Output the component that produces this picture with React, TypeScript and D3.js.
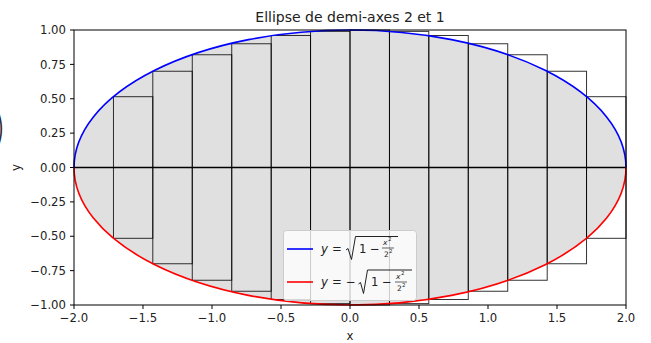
import React from 'react'
import * as d3 from 'd3'

// semi-axes of the ellipse
const semiA = 2
const semiB = 1

// rectangle edges on [-2, 2] (14 steps) and left-endpoint heights
const barEdges = [-2, -1.714, -1.429, -1.143, -0.857, -0.571, -0.286, 0, 0.286, 0.571, 0.857, 1.143, 1.429, 1.714, 2]
const barHeights = [0, 0.515, 0.7, 0.82, 0.9, 0.96, 0.99, 1.0, 0.99, 0.96, 0.9, 0.82, 0.7, 0.515]

const xTicks = [-2, -1.5, -1, -0.5, 0, 0.5, 1, 1.5, 2]
const yTicks = [-1, -0.75, -0.5, -0.25, 0, 0.25, 0.5, 0.75, 1]

const W = 651
const H = 343
const margin = { left: 74, right: 25, top: 30, bottom: 38 }
const font = '"DejaVu Sans", sans-serif'

const fmt = (v: number, d: number) => v.toFixed(d).replace('-', '\u2212')

const App: React.FC = () => {
  const x = d3.scaleLinear().domain([-semiA, semiA]).range([margin.left, W - margin.right])
  const y = d3.scaleLinear().domain([-semiB, semiB]).range([H - margin.bottom, margin.top])

  const cx = x(0)
  const cy = y(0)
  const rx = x(semiA) - x(0)
  const ry = y(0) - y(semiB)

  const upper = `M${x(-semiA)},${cy} A${rx},${ry} 0 0 1 ${x(semiA)},${cy}`
  const lower = `M${x(-semiA)},${cy} A${rx},${ry} 0 0 0 ${x(semiA)},${cy}`

  const bars = barHeights.map((h, i) => ({ x0: barEdges[i], x1: barEdges[i + 1], h }))

  return (
    <svg width={W} height={H} style={{ position: 'absolute', left: 0, top: 0, background: '#fff' }} fontFamily={font}>
      {/* filled ellipse */}
      <ellipse cx={cx} cy={cy} rx={rx} ry={ry} fill="#e0e0e0" />

      {/* rectangles above and below */}
      {bars.map((b, i) => (
        <g key={i} fill="none" stroke="#000" strokeOpacity={0.8} strokeWidth={1}>
          <rect x={x(b.x0)} y={y(b.h)} width={x(b.x1) - x(b.x0)} height={y(0) - y(b.h)} />
          <rect x={x(b.x0)} y={y(0)} width={x(b.x1) - x(b.x0)} height={y(-b.h) - y(0)} />
        </g>
      ))}

      <line x1={x(-semiA)} x2={x(semiA)} y1={cy} y2={cy} stroke="#000" strokeWidth={1.3} />

      <path d={upper} fill="none" stroke="#0000ff" strokeWidth={1.6} />
      <path d={lower} fill="none" stroke="#ff0000" strokeWidth={1.6} />

      {/* frame */}
      <rect x={margin.left} y={margin.top} width={W - margin.left - margin.right} height={H - margin.top - margin.bottom}
        fill="none" stroke="#000" strokeWidth={1} />

      {/* x axis */}
      {xTicks.map(t => (
        <g key={t}>
          <line x1={x(t)} x2={x(t)} y1={y(-1)} y2={y(-1) + 4} stroke="#000" />
          <text x={x(t)} y={y(-1) + 17} fontSize={11.7} textAnchor="middle" fill="#222">{fmt(t, 1)}</text>
        </g>
      ))}
      <text x={x(0)} y={H - 3} fontSize={11.7} textAnchor="middle" fill="#222">x</text>

      {/* y axis */}
      {yTicks.map(t => (
        <g key={t}>
          <line x1={margin.left - 4} x2={margin.left} y1={y(t)} y2={y(t)} stroke="#000" />
          <text x={margin.left - 8} y={y(t) + 4.2} fontSize={11.7} textAnchor="end" fill="#222">{fmt(t, 2)}</text>
        </g>
      ))}
      <text transform={`translate(20,${cy}) rotate(-90)`} fontSize={11.7} textAnchor="middle" fill="#222">y</text>
      <text transform="translate(-3,140) scale(0.5,1)" fontSize={33} fill="#222">)</text>

      {/* title */}
      <text x={x(0)} y={22} fontSize={14} textAnchor="middle" fill="#222">Ellipse de demi-axes 2 et 1</text>

      {/* legend */}
      <g>
        <rect x={283.5} y={230.5} width={133} height={70} rx={3} fill="#fff" fillOpacity={0.8} stroke="#ccc" strokeWidth={1} />
        <line x1={287} x2={313} y1={249} y2={249} stroke="#0000ff" strokeWidth={1.6} />
        <line x1={287} x2={313} y1={282} y2={282} stroke="#ff0000" strokeWidth={1.6} />
        <g fill="#222" fontSize={11.7}>
          <text x={321} y={253} fontStyle="italic">y</text>
          <text x={332} y={253}>=</text>
          <path d="M346,250 L348,248.5 L351.5,259.5 L355.5,236.5 L398,236.5" fill="none" stroke="#222" strokeWidth={1} />
          <text x={359} y={253}>1</text>
          <text x={370} y={253}>{'\u2212'}</text>
          <text x={383} y={245} fontSize={7.5} fontStyle="italic">x</text>
          <text x={388} y={241} fontSize={5.5}>2</text>
          <line x1={382} x2={394} y1={248} y2={248} stroke="#222" strokeWidth={0.7} />
          <text x={384} y={257} fontSize={7.5}>2</text>
          <text x={389} y={253} fontSize={5.5}>2</text>

          <text x={321} y={286} fontStyle="italic">y</text>
          <text x={332} y={286}>=</text>
          <text x={346} y={286}>{'\u2212'}</text>
          <path d="M358.5,284 L360.5,282.5 L363.5,293.5 L367.5,270 L412,270" fill="none" stroke="#222" strokeWidth={1} />
          <text x={371} y={286}>1</text>
          <text x={382} y={286}>{'\u2212'}</text>
          <text x={396} y={278.5} fontSize={7.5} fontStyle="italic">x</text>
          <text x={401} y={274.5} fontSize={5.5}>2</text>
          <line x1={395} x2={407} y1={282} y2={282} stroke="#222" strokeWidth={0.7} />
          <text x={397} y={291} fontSize={7.5}>2</text>
          <text x={402} y={287} fontSize={5.5}>2</text>
        </g>
      </g>
    </svg>
  )
}

export default App
